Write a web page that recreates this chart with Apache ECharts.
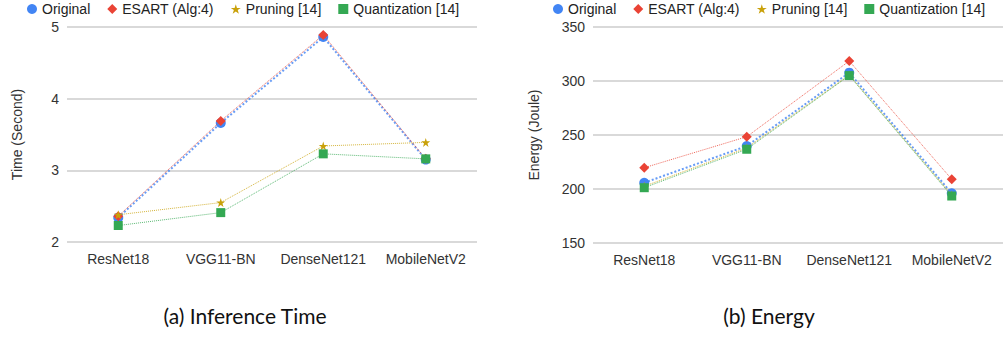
<!DOCTYPE html>
<html>
<head>
<meta charset="utf-8">
<script src="https://cdn.jsdelivr.net/npm/echarts@6/dist/echarts.min.js"></script>
<style>
  html, body { margin: 0; padding: 0; background: #fff; }
  #chart { width: 1006px; height: 337px; }
</style>
</head>
<body>
<div id="chart"></div>
<script>
var categories = ['ResNet18', 'VGG11-BN', 'DenseNet121', 'MobileNetV2'];
var seriesNames = ['Original', 'ESART (Alg:4)', 'Pruning [14]', 'Quantization [14]'];

// (a) inference time, seconds
var timeOriginal = [2.34, 3.66, 4.86, 3.15];
var timeEsart = [2.36, 3.69, 4.89, 3.16];
var timePruning = [2.38, 2.55, 3.34, 3.39];
var timeQuant = [2.23, 2.41, 3.23, 3.16];

// (b) energy, joule
var energyOriginal = [205.8, 239.8, 307.7, 196];
var energyEsart = [219.7, 248.4, 318.5, 209];
var energyPruning = [202.5, 238, 305.5, 194.5];
var energyQuant = [201.2, 236.8, 305, 193.5];

var colors = ['#4285F4', '#EA4335', '#C9A10A', '#34A853'];
var symbols = ['circle', 'diamond', 'path://M50,0 L61.8,35.5 L100,35.5 L69.1,57.4 L80.9,93.3 L50,71.3 L19.1,93.3 L30.9,57.4 L0,35.5 L38.2,35.5 Z', 'rect'];
var symbolSizes = [10, 10, 9, 9];
var lineWidths = [2, 1, 1, 1];

var chart = echarts.init(document.getElementById('chart'), null, { renderer: 'svg' });

function makeSeries(idx, data, gridIdx) {
  return {
    name: seriesNames[idx],
    type: 'line',
    xAxisIndex: gridIdx,
    yAxisIndex: gridIdx,
    data: data,
    symbol: symbols[idx],
    symbolSize: symbolSizes[idx],
    z: idx === 0 ? 2 : 3,
    itemStyle: { color: colors[idx] },
    lineStyle: { color: colors[idx], width: lineWidths[idx], type: 'dotted', opacity: 0.8 }
  };
}

function makeLegend(left) {
  return {
    data: seriesNames.map(function(n, i) { return { name: n, icon: symbols[i] }; }),
    top: 0,
    left: left,
    padding: [2, 5, 2, 5],
    itemWidth: 10,
    itemHeight: 10,
    itemGap: 17,
    textStyle: { color: '#222', fontSize: 14, fontFamily: 'Liberation Sans' }
  };
}

var axisFont = { color: '#333', fontSize: 14, fontFamily: 'Liberation Sans' };

chart.setOption({
  animation: false,
  color: colors,
  legend: [makeLegend(22), makeLegend(548)],
  grid: [
    { left: 67, width: 410, top: 27, height: 215 },
    { left: 593, width: 410, top: 27, height: 216 }
  ],
  title: [
    { text: '(a) Inference Time', left: 240, top: 300, textAlign: 'center',
      textStyle: { fontSize: 21, fontWeight: 'normal', color: '#111', fontFamily: 'Lato' } },
    { text: '(b) Energy', left: 764, top: 300, textAlign: 'center',
      textStyle: { fontSize: 21, fontWeight: 'normal', color: '#111', fontFamily: 'Lato' } }
  ],
  xAxis: [0, 1].map(function(i) {
    return {
      type: 'category', gridIndex: i, data: categories, boundaryGap: true,
      axisLine: { show: false }, axisTick: { show: false },
      axisLabel: Object.assign({ margin: 10, interval: 0 }, axisFont)
    };
  }),
  yAxis: [
    {
      type: 'value', gridIndex: 0, min: 2, max: 5, interval: 1,
      name: 'Time (Second)', nameLocation: 'middle', nameGap: 43,
      nameTextStyle: axisFont,
      axisLine: { show: false }, axisTick: { show: false },
      axisLabel: Object.assign({ margin: 8 }, axisFont),
      splitLine: { lineStyle: { color: '#d9d9d9', width: 2 } }
    },
    {
      type: 'value', gridIndex: 1, min: 150, max: 350, interval: 50,
      name: 'Energy (Joule)', nameLocation: 'middle', nameGap: 52,
      nameTextStyle: axisFont,
      axisLine: { show: false }, axisTick: { show: false },
      axisLabel: Object.assign({ margin: 8 }, axisFont),
      splitLine: { lineStyle: { color: '#d9d9d9', width: 2 } }
    }
  ],
  series: [
    makeSeries(0, timeOriginal, 0),
    makeSeries(1, timeEsart, 0),
    makeSeries(2, timePruning, 0),
    makeSeries(3, timeQuant, 0),
    makeSeries(0, energyOriginal, 1),
    makeSeries(1, energyEsart, 1),
    makeSeries(2, energyPruning, 1),
    makeSeries(3, energyQuant, 1)
  ]
});
window.addEventListener('resize', function() { chart.resize(); });
</script>
</body>
</html>
